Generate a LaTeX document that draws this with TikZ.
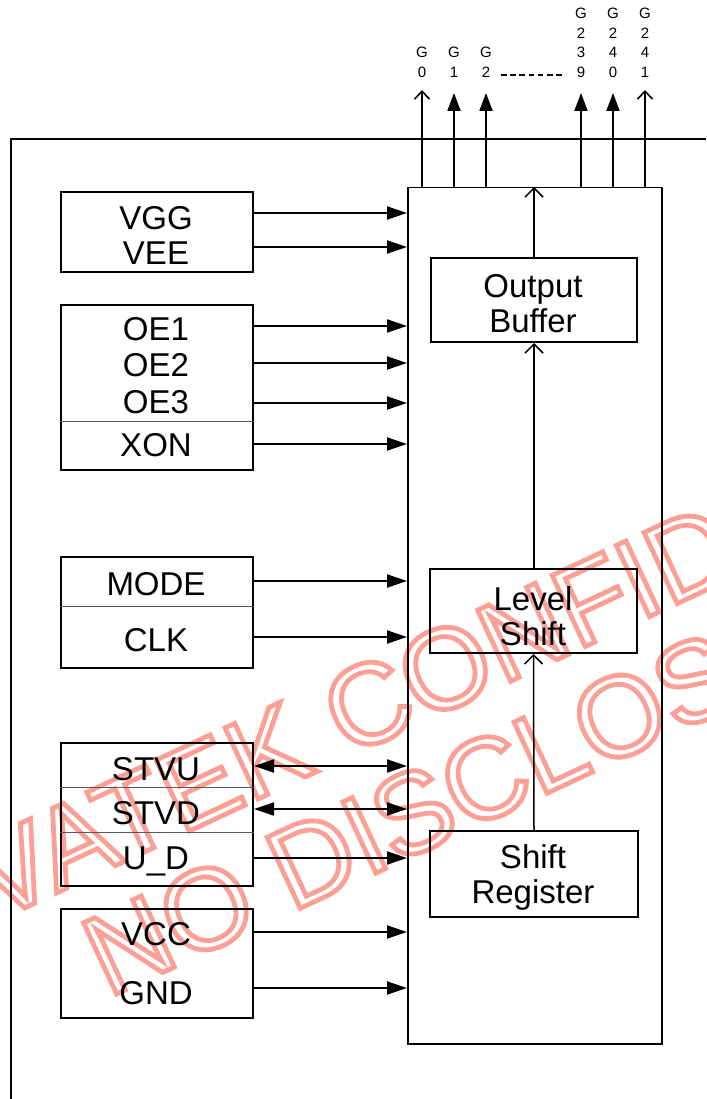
\documentclass[tikz,border=0pt]{standalone}
\usepackage{fontspec}
\setmainfont{Liberation Sans}
\usetikzlibrary{arrows.meta,calc}
\definecolor{wmred}{RGB}{250,160,150}
\newcommand{\outlinetext}[1]{\special{pdf:literal direct 1 Tr 4.8 w}#1\special{pdf:literal direct 0 Tr}}
\tikzset{
  box/.style={draw, line width=2pt, minimum width=192pt, inner sep=0pt, anchor=north west},
  ibox/.style={draw, line width=2pt, inner sep=0pt, anchor=north west},
  big/.style={font=\fontsize{33}{35}\selectfont, align=center, inner sep=0pt},
  one/.style={font=\fontsize{33}{35}\selectfont, inner sep=0pt, text height=24pt, text depth=0pt},
  small/.style={font=\fontsize{15}{19.7}\selectfont, align=center, inner sep=0pt},
  sepline/.style={line width=1pt, black!65},
  fa/.style={line width=2pt, -{Triangle[length=20pt,width=13pt]}},
  da/.style={line width=2pt, {Triangle[length=20pt,width=13pt]}-{Triangle[length=20pt,width=13pt]}},
  fo/.style={line width=2pt, -{Triangle[length=18pt,width=13pt]}},
  oo/.style={line width=1.6pt, -{Straight Barb[length=8pt,width=15pt]}},
  oa/.style={line width=1.5pt, -{Straight Barb[length=9pt,width=18pt]}},
  wm/.style={font=\fontsize{114}{114}\selectfont, rotate=25, anchor=base west, inner sep=0pt, text=wmred},
}
\begin{document}
\begin{tikzpicture}[x=1pt,y=-1pt]
\useasboundingbox (0,0) rectangle (706,1099);

% watermark (outlined text, drawn behind)
\node[wm] (wa) at (-160,994) {\outlinetext{NOVATEK CONFIDENTIAL}};
\node[wm] (wb) at (108,998) {\outlinetext{NO DISCLOSURE}};

% outer frame
\draw[line width=2pt] (706,139) -- (11,139) -- (11,1099);

% main block
\node[draw, line width=1.5pt, minimum width=254pt, minimum height=856pt, inner sep=0pt, anchor=north west] (blk) at (407,187) {};

% left boxes
\node[box, minimum height=80pt] (b1) at (60,191) {};
\node[big] (t1) at (156,235) {VGG\\VEE};

\node[box, minimum height=165pt] (b2) at (60,304) {};
\draw[sepline] (b2.west |- 0,421) -- (b2.east |- 0,421);
\node[one] (oe1) at (156,328) {OE1};
\node[one] (oe2) at (156,364) {OE2};
\node[one] (oe3) at (156,401) {OE3};
\node[one] (xon) at (156,444) {XON};

\node[box, minimum height=111pt] (b3) at (60,556) {};
\draw[sepline] (b3.west |- 0,606) -- (b3.east |- 0,606);
\node[one] (mode) at (156,583) {MODE};
\node[one] (clk) at (156,639) {CLK};

\node[box, minimum height=143pt] (b4) at (60,742) {};
\draw[sepline] (b4.west |- 0,787) -- (b4.east |- 0,787);
\draw[sepline] (b4.west |- 0,832) -- (b4.east |- 0,832);
\node[one] (stvu) at (156,768) {STVU};
\node[one] (stvd) at (156,812) {STVD};
\node[one] (ud) at (156,857) {U\_D};

\node[box, minimum height=109pt] (b5) at (60,908) {};
\node[one] (vcc) at (156,933) {VCC};
\node[one] (gnd) at (156,992) {GND};

% inner boxes
\node[ibox, minimum width=206pt, minimum height=84pt] (ob) at (430,257) {};
\node[big] (obt) at (533,304) {Output\\Buffer};
\node[ibox, minimum width=207pt, minimum height=84pt] (ls) at (429,568) {};
\node[big] (lst) at (533,616) {Level\\Shift};
\node[ibox, minimum width=208pt, minimum height=86pt] (sr) at (429,830) {};
\node[big] (srt) at (533,877) {Shift\\Register};

% input arrows
\draw[fa] (b1.east |- 0,213) -- (blk.west |- 0,213);
\draw[fa] (b1.east |- 0,247) -- (blk.west |- 0,247);
\draw[fa] (b2.east |- 0,326) -- (blk.west |- 0,326);
\draw[fa] (b2.east |- 0,363) -- (blk.west |- 0,363);
\draw[fa] (b2.east |- 0,403) -- (blk.west |- 0,403);
\draw[fa] (b2.east |- 0,444) -- (blk.west |- 0,444);
\draw[fa] (b3.east |- 0,581) -- (blk.west |- 0,581);
\draw[fa] (b3.east |- 0,637) -- (blk.west |- 0,637);
\draw[da] (b4.east |- 0,766) -- (blk.west |- 0,766);
\draw[da] (b4.east |- 0,809) -- (blk.west |- 0,809);
\draw[fa] (b4.east |- 0,858) -- (blk.west |- 0,858);
\draw[fa] (b5.east |- 0,932) -- (blk.west |- 0,932);
\draw[fa] (b5.east |- 0,988) -- (blk.west |- 0,988);

% internal arrows
\draw[oa] (sr.north) -- (ls.south);
\draw[oa] (ls.north -| sr.north) -- (ob.south -| sr.north);
\draw[oa] (ob.north -| sr.north) -- (blk.north -| sr.north);

% output arrows and labels
\coordinate (p0) at (422,90);
\coordinate (p1) at (454,93);
\coordinate (p2) at (486,93);
\coordinate (p3) at (581,93);
\coordinate (p4) at (613,93);
\coordinate (p5) at (645,90);
\draw[oo] (blk.north -| p0) -- (p0);
\draw[fo] (blk.north -| p1) -- (p1);
\draw[fo] (blk.north -| p2) -- (p2);
\draw[fo] (blk.north -| p3) -- (p3);
\draw[fo] (blk.north -| p4) -- (p4);
\draw[oo] (blk.north -| p5) -- (p5);

\node[small] (g0) at (422,62.5) {G\\0};
\node[small] (g1) at (454,62.5) {G\\1};
\node[small] (g2) at (486,62.5) {G\\2};
\node[small] (g239) at (581,42.8) {G\\2\\3\\9};
\node[small] (g240) at (613,42.8) {G\\2\\4\\0};
\node[small] (g241) at (645,42.8) {G\\2\\4\\1};
\coordinate (d0) at (501,75);
\coordinate (d1) at (565,75);
\draw[line width=1.5pt, dash pattern=on 5.5pt off 3.7pt] (d0) -- (d1);
\end{tikzpicture}
\end{document}
